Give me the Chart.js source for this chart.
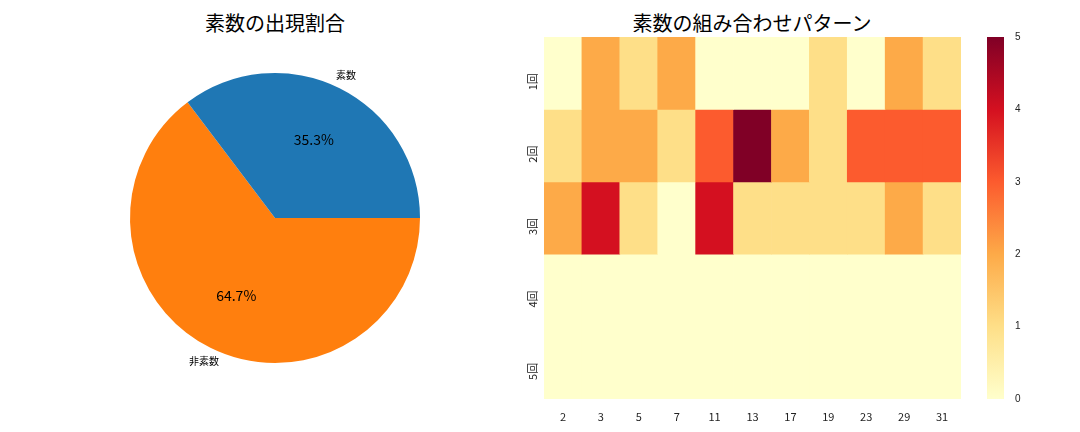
<!DOCTYPE html>
<html><head><meta charset="utf-8">
<script src="https://cdn.jsdelivr.net/npm/chart.js@4"></script>
<style>
body{margin:0;width:1080px;height:432px;background:#fff;position:relative;overflow:hidden;font-family:"Noto Sans CJK JP",sans-serif}
canvas{position:absolute}
.t{position:absolute;top:8px;font-size:20px;color:#000;text-align:center;width:400px}
</style></head><body>
<div class="t" style="left:75px">素数の出現割合</div>
<div class="t" style="left:552px">素数の組み合わせパターン</div>
<div style="position:absolute;left:0;top:0;width:550px;height:432px"><canvas id="pie"></canvas></div>
<div style="position:absolute;left:500px;top:0;width:461px;height:432px"><canvas id="heat"></canvas></div>
<div style="position:absolute;left:987px;top:0;width:47px;height:432px"><canvas id="bar"></canvas></div>
<script>
const pieLabels = ['非素数', '素数'];
const pieValues = [64.7, 35.3];
const pieColors = ['#ff7f0e', '#1f77b4'];

const primes = ['2','3','5','7','11','13','17','19','23','29','31'];
const rowLabels = ['1回','2回','3回','4回','5回'];
const counts = [
  [0,2,1,2,0,0,0,1,0,2,1],
  [1,2,2,1,3,5,2,1,3,3,3],
  [2,4,1,0,4,1,1,1,1,2,1],
  [0,0,0,0,0,0,0,0,0,0,0],
  [0,0,0,0,0,0,0,0,0,0,0]
];
const palette = ['#ffffcc','#fedf88','#fdaa48','#fc5b2e','#d41020','#800026'];
const font = {family:'"Noto Sans CJK JP", sans-serif', size:11};
Chart.defaults.color = '#222';
Chart.defaults.animation = false;

new Chart(document.getElementById('pie'), {
  type: 'pie',
  data: {labels: pieLabels, datasets: [{data: pieValues, backgroundColor: pieColors, borderWidth: 0}]},
  options: {
    responsive: true, maintainAspectRatio: false, rotation: 90,
    layout: {padding: {top: 73, bottom: 69}},
    plugins: {legend: {display: false}, tooltip: {enabled: false}},
  },
  plugins: [{
    id: 'pieText',
    afterDraw(chart) {
      const c = chart.ctx;
      chart.getDatasetMeta(0).data.forEach((arc, i) => {
        const mid = (arc.startAngle + arc.endAngle) / 2;
        const r = arc.outerRadius;
        c.save();
        c.textAlign = 'center'; c.textBaseline = 'middle';
        c.font = '14px "Noto Sans CJK JP", sans-serif';
        c.fillStyle = '#000';
        c.fillText(pieValues[i].toFixed(1) + '%', arc.x + Math.cos(mid) * r * 0.6, arc.y + Math.sin(mid) * r * 0.6);
        c.font = '10px "Noto Sans CJK JP", sans-serif';
        c.fillText(pieLabels[i], arc.x + Math.cos(mid) * r * 1.1, arc.y + Math.sin(mid) * r * 1.1);
        c.restore();
      });
    }
  }]
});

new Chart(document.getElementById('heat'), {
  type: 'bar',
  data: {
    labels: primes,
    datasets: counts.map((row, i) => ({
      label: rowLabels[i],
      data: row.map(() => 1),
      backgroundColor: row.map(v => palette[v]),
      borderWidth: 0, barPercentage: 1, categoryPercentage: 1
    }))
  },
  options: {
    responsive: true, maintainAspectRatio: false,
    layout: {padding: {top: 37, left: 0, right: 0}},
    plugins: {legend: {display: false}, tooltip: {enabled: false}},
    scales: {
      x: {stacked: true, grid: {display: false, drawTicks: true}, border: {display: false},
          ticks: {font: font}, afterFit(s) { s.height = 33; }},
      y: {stacked: true, min: 0, max: 5, reverse: true, grid: {display: false}, border: {display: false},
          afterBuildTicks(s) { s.ticks = rowLabels.map((_, i) => ({value: i + 0.5})); },
          ticks: {font: font, minRotation: 90, maxRotation: 90, callback: (v, i) => rowLabels[i]},
          afterFit(s) { s.width = 44; }}
    }
  }
});

new Chart(document.getElementById('bar'), {
  type: 'bar',
  data: {labels: [''], datasets: [{data: [5], borderWidth: 0, barPercentage: 1, categoryPercentage: 1,
    backgroundColor(ctx) {
      const a = ctx.chart.chartArea;
      if (!a) return palette[0];
      const g = ctx.chart.ctx.createLinearGradient(0, a.bottom, 0, a.top);
      palette.forEach((col, i) => g.addColorStop(i / (palette.length - 1), col));
      return g;
    }}]},
  options: {
    responsive: true, maintainAspectRatio: false,
    layout: {padding: {top: 37, bottom: 0}},
    plugins: {legend: {display: false}, tooltip: {enabled: false}},
    scales: {
      x: {display: true, grid: {display: false}, border: {display: false}, ticks: {display: false}, afterFit(s) { s.height = 33; }},
      y: {position: 'right', min: 0, max: 5, grid: {display: false}, border: {display: false},
          ticks: {stepSize: 1, font: {size: 10}}, afterFit(s) { s.width = 30; }}
    }
  }
});
</script>
</body></html>
